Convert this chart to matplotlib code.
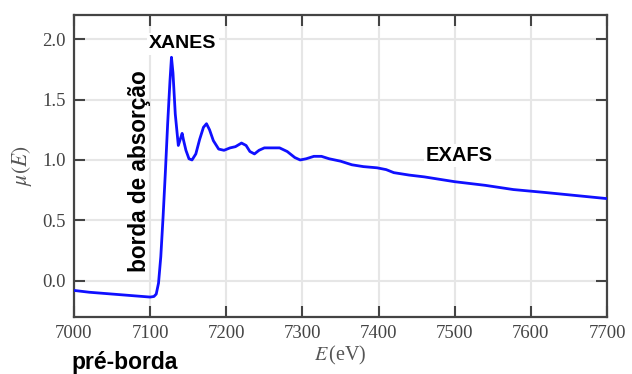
import matplotlib
matplotlib.use("Agg")
import matplotlib.pyplot as plt

plt.rcParams["mathtext.fontset"] = "stix"

# energia (eV) e coeficiente de absorcao
energy = [7000, 7020, 7050, 7080, 7100, 7105, 7108, 7111, 7114, 7117,
          7120, 7123, 7126, 7128, 7130, 7133, 7137, 7140, 7142, 7144,
          7147, 7151, 7155, 7160, 7165, 7170, 7174, 7178, 7183, 7190,
          7197, 7205, 7212, 7220, 7226, 7231, 7237, 7243, 7250, 7260,
          7270, 7280, 7290, 7297, 7305, 7315, 7325, 7335, 7350, 7365,
          7380, 7398, 7410, 7420, 7440, 7460, 7480, 7500, 7540, 7577,
          7620, 7660, 7700]
mu = [-0.08, -0.095, -0.11, -0.125, -0.135, -0.13, -0.11, -0.02, 0.20, 0.53,
      0.90, 1.30, 1.65, 1.85, 1.72, 1.38, 1.12, 1.18, 1.22, 1.16,
      1.08, 1.01, 1.00, 1.05, 1.17, 1.27, 1.30, 1.25, 1.16, 1.09,
      1.08, 1.10, 1.11, 1.14, 1.12, 1.07, 1.05, 1.08, 1.10, 1.10,
      1.10, 1.07, 1.02, 1.00, 1.01, 1.03, 1.03, 1.01, 0.99, 0.96,
      0.945, 0.935, 0.92, 0.895, 0.875, 0.86, 0.84, 0.82, 0.79, 0.755,
      0.73, 0.705, 0.68]

xticks = [7000, 7100, 7200, 7300, 7400, 7500, 7600, 7700]
yticks = [0.0, 0.5, 1.0, 1.5, 2.0]

fig = plt.figure(figsize=(6.32, 3.74), dpi=100)
ax = fig.add_axes([74 / 632, 1 - 317 / 374, (607 - 74) / 632, (317 - 15) / 374])

ax.plot(energy, mu, color="#1010ff", lw=2.0, zorder=3)

ax.set_xlim(7000, 7700)
ax.set_ylim(-0.3, 2.2)
ax.set_xticks(xticks)
ax.set_yticks(yticks)
ax.set_yticklabels([f"{v:.1f}" for v in yticks])
ax.grid(True, color="#e6e6e6", lw=1.5, zorder=0)
ax.set_axisbelow(True)

ax.tick_params(direction="in", length=8, width=1.5, color="#444444",
               top=True, right=True, labelsize=13.5, labelcolor="#444444", pad=6)
for lab in ax.get_xticklabels() + ax.get_yticklabels():
    lab.set_family("Liberation Serif")
for sp in ax.spines.values():
    sp.set_color("#444444")
    sp.set_linewidth(1.6)

ax.set_xlabel(r"$E\,$(eV)", family="Liberation Serif", fontsize=14.5, color="#555555", labelpad=1)
ax.set_ylabel(r"$\mu(E)$", fontsize=15.5, color="#555555", labelpad=6)

box = dict(facecolor="white", edgecolor="none", pad=1.5)
ax.text(7143, 1.96, "XANES", fontsize=14, fontweight="bold", family="Liberation Sans",
        ha="center", va="center", bbox=box, zorder=4)
ax.text(7506, 1.04, "EXAFS", fontsize=14.5, fontweight="bold", family="Liberation Sans",
        ha="center", va="center", bbox=box, zorder=4)
ax.text(7086, 0.91, "borda de absorção", fontsize=16.3, fontweight="bold",
        family="Liberation Sans", rotation=90, ha="center", va="center", zorder=4)
fig.text(125 / 632, 1 - 362 / 374, "pré-borda", fontsize=16.5, fontweight="bold",
         family="Liberation Sans", ha="center", va="center")

fig.savefig("out.png", dpi=100)
